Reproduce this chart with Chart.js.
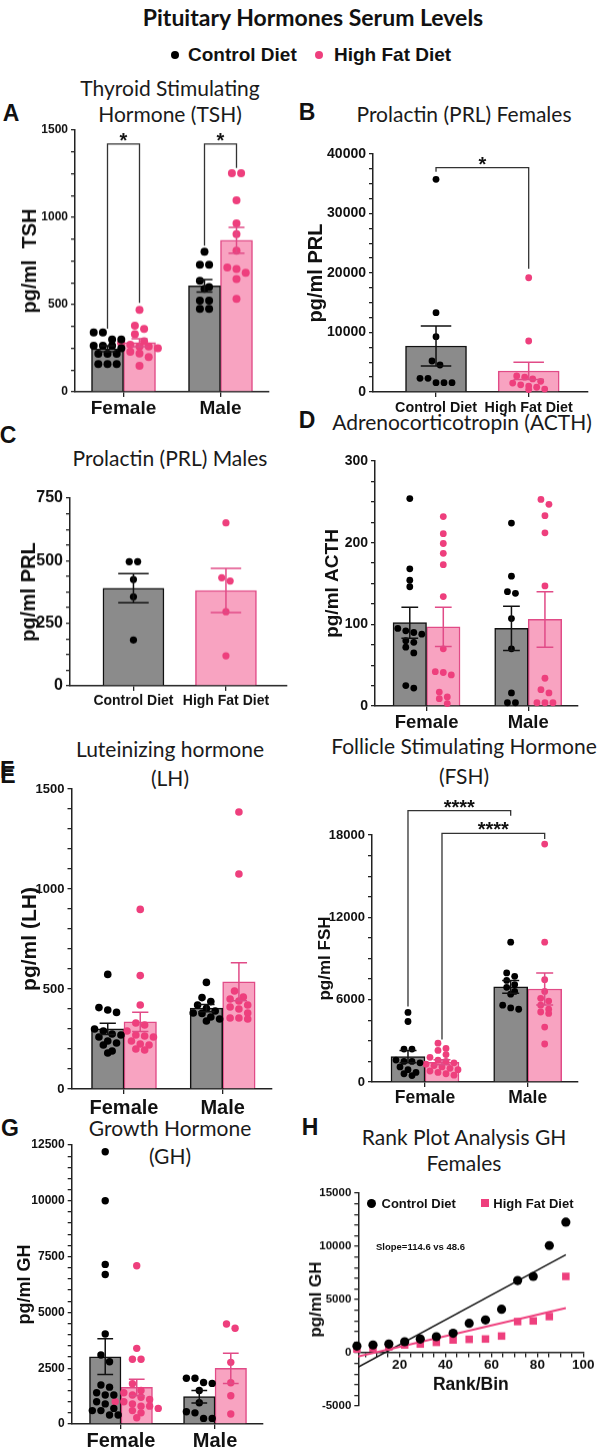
<!DOCTYPE html>
<html>
<head>
<meta charset="utf-8">
<script src="https://cdn.jsdelivr.net/npm/chart.js@4.4.1/dist/chart.umd.min.js"></script>
<style>
  html, body { margin: 0; background: #fff; overflow: hidden; }
  #fig { position: relative; width: 600px; height: 1450px; overflow: hidden; background: #fff; }
  #fig div { position: absolute; white-space: nowrap; line-height: 1; color: #111; }
</style>
</head>
<body>
<div id="fig"></div>
<script>
// ---- data ----
const sexGroups = ['Female', 'Male'];
const dietGroups = ['Control Diet', 'High Fat Diet'];

// A  TSH
const tshCtrlMean = [247, 608], tshCtrlSem = [17, 36];
const tshHfdMean = [282, 869], tshHfdSem = [23, 74];
const tshCtrlFemale = [340, 340, 300, 300, 265, 265, 265, 250, 218, 218, 218, 160, 160, 160];
const tshCtrlMale = [803, 729, 729, 637, 600, 590, 523, 523, 475, 475];
const tshHfdFemale = [470, 380, 360, 330, 290, 280, 270, 260, 260, 250, 230, 220, 200, 150];
const tshHfdMale = [1253, 1253, 1098, 965, 904, 809, 713, 704, 682, 647, 533];

// B  PRL females
const prlFMean = [7730, 3530], prlFSem = [3350, 1450];
const prlFCtrl = [35750, 13330, 9300, 5210, 4540, 2300, 2300, 1560, 1560, 1560];
const prlFHfd = [19200, 8570, 2700, 2500, 2200, 1800, 1500, 1200, 1000, 800, 500, 400];

// C  PRL males
const prlMMean = [390, 381], prlMSem = [58, 88];
const prlMCtrl = [496, 496, 425, 356, 183];
const prlMHfd = [651, 432, 419, 296, 120];

// D  ACTH
const acthCtrlMean = [102, 95], acthCtrlSem = [19, 27];
const acthHfdMean = [97, 106], acthHfdSem = [24, 34];
const acthCtrlFemale = [254, 168, 154, 146, 95, 92, 90, 88, 80, 78, 72, 65, 25, 22];
const acthCtrlMale = [224, 159, 140, 138, 107, 70, 16, 4, 4];
const acthHfdFemale = [232, 211, 199, 187, 173, 134, 70, 42, 41, 38, 17, 11, 9, 3];
const acthHfdMale = [253, 247, 233, 212, 147, 34, 20, 16, 4, 4, 4];

// E  LH
const lhCtrlMean = [301, 404], lhCtrlSem = [28, 18];
const lhHfdMean = [336, 536], lhHfdSem = [48, 95];
const lhCtrlFemale = [573, 407, 395, 383, 300, 290, 275, 270, 260, 240, 230, 220, 190, 180];
const lhCtrlMale = [533, 457, 437, 420, 403, 390, 380, 378, 360, 350, 340];
const lhHfdFemale = [898, 567, 420, 330, 320, 290, 270, 265, 260, 240, 225, 220, 200, 195];
const lhHfdMale = [1385, 1075, 490, 460, 450, 440, 420, 410, 400, 380, 355, 355, 350];

// F  FSH
const fshCtrlMean = [1850, 6930], fshCtrlSem = [450, 460];
const fshHfdMean = [1440, 6780], fshHfdSem = [190, 1170];
const fshCtrlFemale = [5070, 4410, 2400, 2400, 1600, 1500, 1500, 1400, 1100, 900, 700, 600, 470];
const fshCtrlMale = [10190, 7950, 7700, 7400, 7100, 6900, 6600, 6400, 5600, 5400, 5300];
const fshHfdFemale = [2830, 2450, 2300, 2000, 1800, 1600, 1500, 1400, 1300, 1200, 1100, 1000, 900, 800, 700, 600, 500];
const fshHfdMale = [17340, 10190, 7460, 6600, 6100, 5900, 5600, 5300, 5100, 5000, 4000, 2770];

// G  GH
const ghCtrlMean = [3015, 1225], ghCtrlSem = [800, 280];
const ghHfdMean = [1640, 2494], ghHfdSem = [370, 680];
const ghCtrlFemale = [12200, 10000, 7150, 6700, 4030, 3090, 2790, 1750, 1650, 1400, 1300, 1300, 1000, 900, 700, 600, 600, 400, 400];
const ghCtrlMale = [2050, 2050, 1860, 1820, 1500, 950, 550, 500, 250, 250];
const ghHfdFemale = [7090, 3390, 2900, 2900, 1800, 1500, 1400, 1300, 1200, 1100, 1000, 1000, 900, 800, 800, 700, 600, 500, 280];
const ghHfdMale = [4480, 4287, 2763, 1850, 1268, 448];

// H  rank plot GH females
const rankBins = [1.4, 8.4, 15.3, 22.2, 29.0, 36.0, 43.3, 50.3, 57.4, 64.4, 71.4, 78.2, 85.2, 92.4];
const rankCtrl = [630, 730, 820, 1040, 1290, 1510, 1830, 2770, 3080, 4090, 6790, 7170, 10070, 12270];
const rankHfd = [350, 450, 550, 730, 820, 980, 1200, 1260, 1290, 1570, 2930, 2990, 3400, 7170];
const fitEnds = [1.4, 92.4];
const fitCtrl = [-1410, 9220];
const fitHfd = [-377, 4190];

// ---- styling ----
const AX = '"Liberation Sans", Arial, Helvetica, sans-serif';
const INK = '#111111', GRAY = '#8b8b8b';
const PINK_FILL = '#f8a3c1', PINK_LINE = '#e14b87', PINK_DOT = '#ee3f7d';
Chart.defaults.font.family = AX;
const fig = document.getElementById('fig');

function txt(s, x, y, css, left) {
  const d = document.createElement('div');
  d.textContent = s;
  d.style.cssText = `left:${x}px;top:${y}px;transform:translate(${left ? '0' : '-50%'},-50%);` + css;
  fig.appendChild(d);
  return d;
}
function mark(x, y, size, color, round) {
  const d = document.createElement('div');
  d.style.cssText = `left:${x - size / 2}px;top:${y - size / 2}px;width:${size}px;height:${size}px;background:${color};border-radius:${round ? '50%' : '0'}`;
  fig.appendChild(d);
}
function mkCanvas(left, top, w, h) {
  const c = document.createElement('canvas');
  c.width = w; c.height = h;
  c.style.cssText = `position:absolute;left:${left}px;top:${top}px;width:${w}px;height:${h}px`;
  fig.appendChild(c);
  return c;
}

// headings
txt('Pituitary Hormones Serum Levels', 313, 17, 'font:bold 23px Lato, sans-serif;');
mark(175, 55, 8, '#000', true);
txt('Control Diet', 188, 55, `font:bold 19px ${AX};`, true);
mark(319, 55, 8, PINK_DOT, true);
txt('High Fat Diet', 334, 55, `font:bold 19px ${AX};`, true);

const LET = `font:bold 23px ${AX};`;
const TT = 'font:21px Lato, sans-serif;color:#1a1a1a;';
[['A', 11, 113], ['B', 307, 112], ['C', 8, 435], ['D', 307, 420],
 ['E', 8, 775], ['F', 7, 770], ['G', 10, 1128], ['H', 310, 1127]].forEach(l => txt(l[0], l[1], l[2], LET));
[['Thyroid Stimulating', 170, 87], ['Hormone (TSH)', 170, 113],
 ['Prolactin (PRL) Females', 464, 113],
 ['Prolactin (PRL) Males', 170, 457],
 ['Adrenocorticotropin (ACTH)', 462, 421],
 ['Luteinizing hormone', 170, 748], ['(LH)', 170, 777],
 ['Follicle Stimulating Hormone', 464, 745], ['(FSH)', 464, 775],
 ['Growth Hormone', 170, 1127], ['(GH)', 170, 1155],
 ['Rank Plot Analysis GH', 464, 1136], ['Females', 464, 1162]].forEach(t => txt(t[0], t[1], t[2], TT));

// ---- helpers ----
function yAxis(o, min) {
  return {
    type: 'linear', min: min, max: o.yMax,
    afterBuildTicks: s => {
      const t = [];
      for (let i = 0; min + i * o.minor <= o.yMax + 1e-6; i++) t.push({ value: min + i * o.minor });
      s.ticks = t;
    },
    afterFit: s => { s.width = o.plot.l - o.col; },
    ticks: {
      autoSkip: false, padding: 3, color: INK,
      font: { family: AX, size: o.tickFont, weight: 'bold' },
      callback: v => (Math.abs(v % o.major) < 1e-6 ? String(v) : '')
    },
    grid: { drawOnChartArea: false, drawTicks: true, tickLength: 4, color: '#222', lineWidth: 1.3 },
    border: { display: true, color: '#222', width: 1.5 },
    title: {
      display: true, text: o.yTitle, color: INK,
      font: { family: AX, size: o.yTitleSize, weight: 'bold' },
      padding: { top: o.yTitleX - o.col - o.yTitleSize * 0.6, bottom: 0 }
    }
  };
}

const errBars = {
  id: 'errBars',
  afterDatasetsDraw(chart) {
    const ys = chart.scales.y, ctx = chart.ctx;
    chart.data.datasets.forEach((ds, di) => {
      if (!ds.sem) return;
      chart.getDatasetMeta(di).data.forEach((el, i) => {
        const m = ds.data[i].y, e = ds.sem[i];
        const w = el.width / 4;
        const yT = ys.getPixelForValue(m + e), yB = ys.getPixelForValue(m - e);
        ctx.save();
        ctx.strokeStyle = Array.isArray(ds.errColor) ? ds.errColor[i] : ds.errColor;
        ctx.lineWidth = 1.5;
        ctx.beginPath();
        ctx.moveTo(el.x, yT); ctx.lineTo(el.x, yB);
        ctx.moveTo(el.x - w, yT); ctx.lineTo(el.x + w, yT);
        ctx.moveTo(el.x - w, yB); ctx.lineTo(el.x + w, yB);
        ctx.stroke();
        ctx.restore();
      });
    });
  }
};

function brackets(list) {
  return {
    id: 'brackets',
    afterDraw(chart) {
      const ys = chart.scales.y, ctx = chart.ctx;
      list.forEach(b => {
        const xa = chart.getDatasetMeta(b.a[1]).data[b.a[0]].x;
        const xb = chart.getDatasetMeta(b.b[1]).data[b.b[0]].x;
        const yt = ys.getPixelForValue(b.y);
        ctx.save();
        ctx.strokeStyle = '#333'; ctx.lineWidth = 1.3;
        ctx.beginPath();
        ctx.moveTo(xa, ys.getPixelForValue(b.ya)); ctx.lineTo(xa, yt);
        ctx.lineTo(xb, yt); ctx.lineTo(xb, ys.getPixelForValue(b.yb));
        ctx.stroke();
        ctx.fillStyle = INK; ctx.font = `bold 20px ${AX}`;
        ctx.textAlign = 'center'; ctx.textBaseline = 'alphabetic';
        ctx.fillText(b.text, (xa + xb) / 2, yt + 3);
        ctx.restore();
      });
    }
  };
}

// spread dots sideways like a scatter dot plot, using the drawn bar centres
function swarm(chart) {
  const xs = chart.scales.x, ys = chart.scales.y;
  chart.data.datasets.forEach(ds => {
    if (ds.barRef === undefined) return;
    const bars = chart.getDatasetMeta(ds.barRef).data;
    const d = 2 * ds.pointRadius + 1.2;
    const byGroup = {};
    ds.data.forEach(p => { (byGroup[p.g] = byGroup[p.g] || []).push(p); });
    Object.keys(byGroup).forEach(g => {
      const cx = bars[g].x;
      const pts = byGroup[g].map(p => ({ p, py: ys.getPixelForValue(p.y) })).sort((a, b) => a.py - b.py);
      let row = [];
      const flush = () => {
        row.forEach((q, j) => { q.p.x = xs.getValueForPixel(cx + (j - (row.length - 1) / 2) * d); });
        row = [];
      };
      pts.forEach(q => { if (row.length && q.py - row[0].py >= d * 0.8) flush(); row.push(q); });
      flush();
    });
  });
  chart.update('none');
}

function dots(groupsOfValues, groupIndex) {
  return groupsOfValues.flatMap((arr, k) => arr.map(v => ({ x: groupIndex[k], y: v, g: groupIndex[k] })));
}

function barPanel(o) {
  const top = o.plot.t - o.padTop;
  const xh = 40;
  const cv = mkCanvas(o.col, top, 300, o.plot.b - top + xh);
  const datasets = [];
  const pt = (color) => ({ type: 'scatter', pointRadius: o.r, pointBackgroundColor: color, pointBorderColor: color, pointBorderWidth: 0, clip: false, order: 1 });
  if (o.single) {
    datasets.push({
      type: 'bar', data: o.groups.map((g, i) => ({ x: i, y: o.mean[i] })), sem: o.sem,
      errColor: [INK, PINK_LINE], backgroundColor: [GRAY, PINK_FILL], borderColor: [INK, PINK_LINE],
      borderWidth: 1.5, barThickness: o.barW, order: 2
    });
    datasets.push(Object.assign(pt('#000'), { data: dots([o.ctrlPts], [0]), barRef: 0 }));
    datasets.push(Object.assign(pt(PINK_DOT), { data: dots([o.hfdPts], [1]), barRef: 0 }));
  } else {
    datasets.push({
      type: 'bar', data: o.groups.map((g, i) => ({ x: i, y: o.ctrlMean[i] })), sem: o.ctrlSem,
      errColor: INK, backgroundColor: GRAY, borderColor: INK, borderWidth: 1.5, barThickness: o.barW, order: 2
    });
    datasets.push({
      type: 'bar', data: o.groups.map((g, i) => ({ x: i, y: o.hfdMean[i] })), sem: o.hfdSem,
      errColor: PINK_LINE, backgroundColor: PINK_FILL, borderColor: PINK_LINE, borderWidth: 1.5, barThickness: o.barW, order: 2
    });
    datasets.push(Object.assign(pt('#000'), { data: dots(o.ctrlPts, [0, 1]), barRef: 0 }));
    datasets.push(Object.assign(pt(PINK_DOT), { data: dots(o.hfdPts, [0, 1]), barRef: 1 }));
  }
  const chart = new Chart(cv, {
    type: 'bar',
    data: { datasets },
    options: {
      responsive: false, maintainAspectRatio: false, animation: false, events: [],
      layout: { padding: { left: 0, top: o.padTop, right: o.col + 300 - o.plot.r, bottom: 0 } },
      plugins: { legend: { display: false }, tooltip: { enabled: false } },
      scales: {
        x: {
          type: 'linear', min: o.xMin, max: o.xMax, offset: false,
          afterBuildTicks: s => { s.ticks = o.groups.map((g, i) => ({ value: i })); },
          afterFit: s => { s.height = xh; },
          ticks: {
            autoSkip: false, maxRotation: 0, padding: o.catPad, color: INK,
            font: { family: AX, size: o.catFont, weight: 'bold' },
            callback: v => o.groups[v]
          },
          grid: { offset: false, drawOnChartArea: false, tickLength: 5, color: '#222', lineWidth: 1.3 },
          border: { display: true, color: '#222', width: 1.5 }
        },
        y: yAxis(o, 0)
      }
    },
    plugins: [errBars, brackets(o.brackets || [])]
  });
  swarm(chart);
}

// ---- panels ----
barPanel({
  col: 0, plot: { l: 75, r: 269, t: 130, b: 391.5 }, padTop: 14, xMin: -0.5, xMax: 1.5, barW: 32,
  yMax: 1500, major: 500, minor: 125, tickFont: 12, catFont: 19, catPad: 0,
  yTitle: 'pg/ml  TSH', yTitleSize: 20, yTitleX: 30.7, r: 4, groups: sexGroups,
  ctrlMean: tshCtrlMean, ctrlSem: tshCtrlSem, hfdMean: tshHfdMean, hfdSem: tshHfdSem,
  ctrlPts: [tshCtrlFemale, tshCtrlMale], hfdPts: [tshHfdFemale, tshHfdMale],
  brackets: [
    { a: [0, 0], b: [0, 1], y: 1420, ya: 362, yb: 510, text: '*' },
    { a: [1, 0], b: [1, 1], y: 1420, ya: 837, yb: 1283, text: '*' }
  ]
});

barPanel({
  col: 300, plot: { l: 373, r: 588, t: 154, b: 392 }, padTop: 20, xMin: -0.68, xMax: 1.64, barW: 61,
  yMax: 40000, major: 10000, minor: 2500, tickFont: 14, catFont: 14.3, catPad: 2,
  yTitle: 'pg/ml PRL', yTitleSize: 20, yTitleX: 316, r: 3.4, groups: dietGroups, single: true,
  mean: prlFMean, sem: prlFSem, ctrlPts: prlFCtrl, hfdPts: prlFHfd,
  brackets: [{ a: [0, 0], b: [1, 0], y: 37700, ya: 37000, yb: 20700, text: '*' }]
});

barPanel({
  col: 0, plot: { l: 70, r: 287, t: 498.3, b: 686 }, padTop: 14, xMin: -0.686, xMax: 1.66, barW: 61,
  yMax: 750, major: 250, minor: 62.5, tickFont: 16, catFont: 14, catPad: 1.3,
  yTitle: 'pg/ml PRL', yTitleSize: 20, yTitleX: 29.5, r: 3.6, groups: dietGroups, single: true,
  mean: prlMMean, sem: prlMSem, ctrlPts: prlMCtrl, hfdPts: prlMHfd
});

barPanel({
  col: 300, plot: { l: 375, r: 578, t: 461, b: 706 }, padTop: 14, xMin: -0.507, xMax: 1.49, barW: 33.5,
  yMax: 300, major: 100, minor: 25, tickFont: 14, catFont: 18.5, catPad: 0.6,
  yTitle: 'pg/ml ACTH', yTitleSize: 19, yTitleX: 332.5, r: 3.4, groups: sexGroups,
  ctrlMean: acthCtrlMean, ctrlSem: acthCtrlSem, hfdMean: acthHfdMean, hfdSem: acthHfdSem,
  ctrlPts: [acthCtrlFemale, acthCtrlMale], hfdPts: [acthHfdFemale, acthHfdMale]
});

barPanel({
  col: 0, plot: { l: 71.5, r: 272, t: 789, b: 1089 }, padTop: 14, xMin: -0.532, xMax: 1.5, barW: 32.5,
  yMax: 1500, major: 500, minor: 100, tickFont: 13, catFont: 20, catPad: 2,
  yTitle: 'pg/ml (LH)', yTitleSize: 21, yTitleX: 30.5, r: 3.8, groups: sexGroups,
  ctrlMean: lhCtrlMean, ctrlSem: lhCtrlSem, hfdMean: lhHfdMean, hfdSem: lhHfdSem,
  ctrlPts: [lhCtrlFemale, lhCtrlMale], hfdPts: [lhHfdFemale, lhHfdMale]
});

barPanel({
  col: 300, plot: { l: 372, r: 578, t: 835, b: 1082 }, padTop: 45, xMin: -0.516, xMax: 1.49, barW: 34,
  yMax: 18000, major: 6000, minor: 1500, tickFont: 13, catFont: 17.5, catPad: 0.8,
  yTitle: 'pg/ml FSH', yTitleSize: 17, yTitleX: 325.5, r: 3.4, groups: sexGroups,
  ctrlMean: fshCtrlMean, ctrlSem: fshCtrlSem, hfdMean: fshHfdMean, hfdSem: fshHfdSem,
  ctrlPts: [fshCtrlFemale, fshCtrlMale], hfdPts: [fshHfdFemale, fshHfdMale],
  brackets: [
    { a: [0, 0], b: [1, 0], y: 19780, ya: 5500, yb: 19400, text: '****' },
    { a: [0, 1], b: [1, 1], y: 18120, ya: 3100, yb: 17700, text: '****' }
  ]
});

barPanel({
  col: 0, plot: { l: 71.7, r: 263, t: 1145, b: 1424 }, padTop: 14, xMin: -0.524, xMax: 1.51, barW: 31.5,
  yMax: 12500, major: 2500, minor: 500, tickFont: 12, catFont: 20, catPad: 0.7,
  yTitle: 'pg/ml GH', yTitleSize: 18, yTitleX: 25.5, r: 3.7, groups: sexGroups,
  ctrlMean: ghCtrlMean, ctrlSem: ghCtrlSem, hfdMean: ghHfdMean, hfdSem: ghHfdSem,
  ctrlPts: [ghCtrlFemale, ghCtrlMale], hfdPts: [ghHfdFemale, ghHfdMale]
});

// H rank plot
(function () {
  const o = { col: 300, plot: { l: 358.3, r: 583.3, t: 1193.3, b: 1405.7 }, yMax: 15000, major: 5000, minor: 1000,
    tickFont: 11.5, yTitle: 'pg/ml GH', yTitleSize: 17, yTitleX: 316.5 };
  const top = o.plot.t - 14;
  const cv = mkCanvas(300, top, 300, o.plot.b - top + 12);
  new Chart(cv, {
    type: 'scatter',
    data: {
      datasets: [
        { type: 'line', data: fitEnds.map((x, i) => ({ x, y: fitCtrl[i] })), borderColor: INK, borderWidth: 1.4, pointRadius: 0, order: 4 },
        { type: 'line', data: fitEnds.map((x, i) => ({ x, y: fitHfd[i] })), borderColor: PINK_DOT, borderWidth: 2, pointRadius: 0, order: 3 },
        { data: rankBins.map((x, i) => ({ x, y: rankHfd[i] })), pointStyle: 'rect', pointRadius: 5.3,
          pointBackgroundColor: PINK_DOT, pointBorderWidth: 0, order: 2, clip: false },
        { data: rankBins.map((x, i) => ({ x, y: rankCtrl[i] })), pointRadius: 4.6,
          pointBackgroundColor: '#000', pointBorderWidth: 0, order: 1, clip: false }
      ]
    },
    options: {
      responsive: false, maintainAspectRatio: false, animation: false, events: [],
      layout: { padding: { left: 0, top: 14, right: 600 - o.plot.r, bottom: 12 } },
      plugins: { legend: { display: false }, tooltip: { enabled: false } },
      scales: {
        x: {
          type: 'linear', min: 2, max: 100, position: { y: 0 },
          afterBuildTicks: s => { const t = []; for (let v = 5; v <= 100; v += 5) t.push({ value: v }); s.ticks = t; },
          afterFit: s => { s.height = 45; },
          ticks: { autoSkip: false, maxRotation: 0, padding: 0, color: INK,
            font: { family: AX, size: 13.5, weight: 'bold' }, callback: v => (v % 20 === 0 ? String(v) : '') },
          grid: { drawOnChartArea: false, tickLength: 4, color: '#222', lineWidth: 1.3 },
          border: { display: true, color: '#222', width: 1.5 },
          title: { display: true, text: 'Rank/Bin', color: INK, font: { family: AX, size: 17.5, weight: 'bold' },
            padding: { top: 0, bottom: 2 } }
        },
        y: yAxis(o, -5000)
      }
    }
  });
  mark(371.7, 1203, 9, '#000', true);
  txt('Control Diet', 381.5, 1203, `font:bold 13px ${AX};`, true);
  mark(485, 1203, 7.5, PINK_DOT, false);
  txt('High Fat Diet', 493.3, 1203, `font:bold 13px ${AX};`, true);
  txt('Slope=114.6 vs 48.6', 376, 1246, `font:bold 9.5px ${AX};`, true);
})();
</script>
</body>
</html>
